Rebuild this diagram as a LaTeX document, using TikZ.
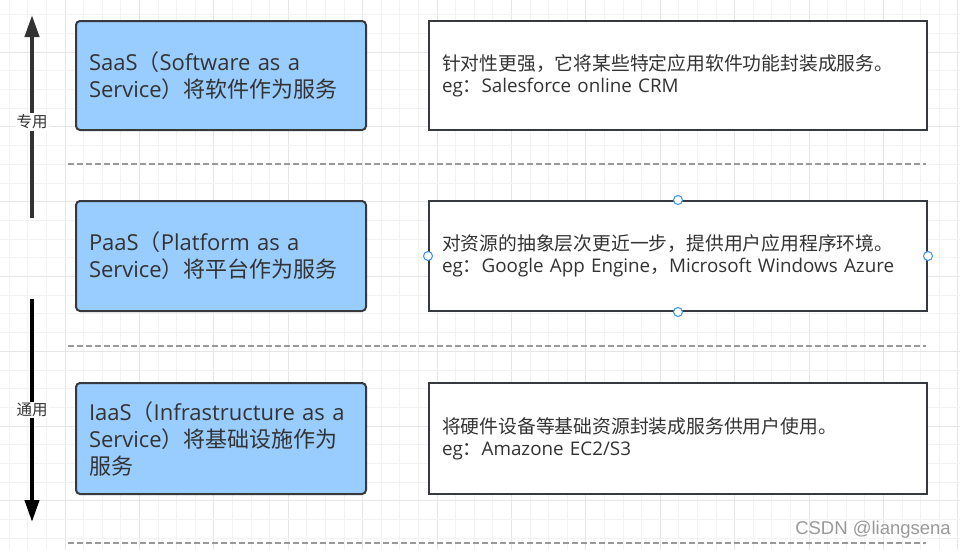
\documentclass[tikz,border=0pt]{standalone}
\usepackage{fontspec}
\setmainfont{Noto Sans CJK SC}
\newfontfamily\lat{Open Sans}
\newfontfamily\wmfont{Liberation Sans}
\usetikzlibrary{arrows.meta}
\definecolor{boxblue}{HTML}{99CCFF}
\definecolor{boxline}{HTML}{36393D}
\definecolor{txt}{HTML}{333333}
\definecolor{gridminor}{HTML}{F2F2F2}
\definecolor{gridmajor}{HTML}{E6E6E6}
\definecolor{dashcol}{HTML}{999999}
\definecolor{handle}{HTML}{3D8DF5}
\tikzset{
  bluebox/.style={draw=boxline, fill=boxblue, line width=2pt, rounded corners=4pt,
    minimum width=290pt, text width=264pt, inner xsep=13pt, inner ysep=0pt, align=left,
    anchor=north west, text=txt, font=\fontsize{22}{27}\selectfont},
  descbox/.style={draw=boxline, fill=white, line width=2pt,
    minimum width=498pt, text width=472pt, inner xsep=13pt, inner ysep=0pt, align=left,
    anchor=north west, text=txt, font=\fontsize{18.8}{22}\selectfont},
  sep/.style={draw=dashcol, line width=1.3pt, dash pattern=on 6pt off 3pt},
  axislabel/.style={fill=white, text=txt, font=\fontsize{15.5}{17}\selectfont, inner sep=1.5pt},
  selhandle/.style={circle, draw=handle, fill=white, line width=1pt, minimum size=9pt, inner sep=0pt}
}
\begin{document}
\begin{tikzpicture}[x=1pt,y=-1pt]
\useasboundingbox (0,0) rectangle (960,550);
\fill[white] (0,0) rectangle (960,550);
% grid
\foreach \i in {0,...,51}{
  \pgfmathsetmacro{\xx}{9.2+18.6*\i}
  \pgfmathtruncatemacro{\mm}{mod(\i+1,4)}
  \ifnum\mm=0 \draw[gridmajor, line width=0.9pt] (\xx,0) -- (\xx,550);
  \else \draw[gridminor, line width=0.9pt] (\xx,0) -- (\xx,550); \fi
}
\foreach \j in {-1,...,29}{
  \pgfmathsetmacro{\yy}{201.7+18.7*(\j-10)}
  \pgfmathtruncatemacro{\mm}{mod(\j+40,4)}
  \ifnum\mm=2 \draw[gridmajor, line width=0.9pt] (0,\yy) -- (960,\yy);
  \else \draw[gridminor, line width=0.9pt] (0,\yy) -- (960,\yy); \fi
}
% separators
\coordinate (s1a) at (68,164); \coordinate (s1b) at (926,164);
\coordinate (s2a) at (68,346); \coordinate (s2b) at (926,346);
\coordinate (s3a) at (68,543); \coordinate (s3b) at (926,543);
\draw[sep] (s1a) -- (s1b);
\draw[sep] (s2a) -- (s2b);
\draw[sep] (s3a) -- (s3b);
% left boxes
\node[bluebox, minimum height=109pt] (saas) at (75,20) {{\lat SaaS}（{\lat Software as a}\\{\lat Service}）将软件作为服务};
\node[bluebox, minimum height=110pt] (paas) at (75,200) {{\lat PaaS}（{\lat Platform as a}\\{\lat Service}）将平台作为服务};
\node[bluebox, minimum height=111pt] (iaas) at (75,382) {{\lat IaaS}（{\lat Infrastructure as a}\\{\lat Service}）将基础设施作为\\服务};
% right boxes
\node[descbox, minimum height=109pt] (saasd) at (428,20) {针对性更强，它将某些特定应用软件功能封装成服务。\\{\lat eg}：{\lat Salesforce online CRM}};
\node[descbox, minimum height=110pt] (paasd) at (428,200) {对资源的抽象层次更近一步，提供用户应用程序环境。\\{\lat eg}：{\lat Google App Engine}，{\lat Microsoft Windows Azure}};
\node[descbox, minimum height=111pt] (iaasd) at (428,382) {将硬件设备等基础资源封装成服务供用户使用。\\{\lat eg}：{\lat Amazone EC2/S3}};
% selection handles
\node[selhandle] (h1) at (paasd.north) {};
\node[selhandle] (h2) at (paasd.south) {};
\node[selhandle] (h3) at (paasd.west) {};
\node[selhandle] (h4) at (paasd.east) {};
% axis arrows
\coordinate (u0) at (32,218); \coordinate (u1) at (32,15);
\coordinate (d0) at (32,299); \coordinate (d1) at (32,522);
\draw[line width=4pt, color=txt, -{Triangle[width=14pt,length=22pt]}] (u0) -- (u1);
\draw[line width=4pt, color=black, -{Triangle[width=14pt,length=22pt]}] (d0) -- (d1);
\node[axislabel] (zy) at (32,122) {专用};
\node[axislabel] (ty) at (32,410) {通用};
% watermark
\node[text=black!40, font=\wmfont\fontsize{18.5}{20}\selectfont, anchor=east, inner sep=0pt] (wm) at (951,530) {CSDN @liangsena};
\end{tikzpicture}
\end{document}
